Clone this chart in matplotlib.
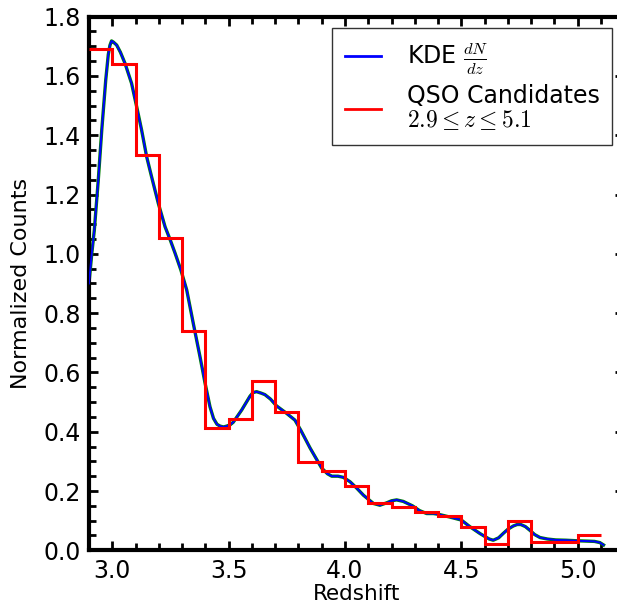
import numpy as np
import matplotlib
matplotlib.use("Agg")
import matplotlib.pyplot as plt

plt.rcParams["mathtext.fontset"] = "cm"
plt.rcParams["font.family"] = ["DejaVu Sans"]

# Histogram of QSO candidates (0.1-wide redshift bins)
bin_edges = np.round(np.arange(2.9, 5.1001, 0.1), 2)
counts = [1.690, 1.639, 1.334, 1.052, 0.740, 0.413, 0.443, 0.572, 0.466, 0.297,
          0.268, 0.217, 0.159, 0.147, 0.130, 0.117, 0.080, 0.021, 0.100, 0.029,
          0.029, 0.051]

# Kernel density estimate dN/dz
kde_z = [2.900, 2.912, 2.923, 2.940, 2.955, 2.972, 2.983, 2.990, 2.997, 3.005,
         3.019, 3.035, 3.055, 3.083, 3.105, 3.126, 3.148, 3.169, 3.198, 3.227,
         3.250, 3.270, 3.295, 3.320, 3.348, 3.377, 3.399, 3.420, 3.435, 3.450,
         3.463, 3.478, 3.492, 3.506, 3.520, 3.556, 3.592, 3.605, 3.620, 3.640,
         3.656, 3.680, 3.706, 3.749, 3.785, 3.810, 3.850, 3.900, 3.925, 3.943,
         3.970, 3.993, 4.022, 4.050, 4.079, 4.122, 4.150, 4.179, 4.200, 4.222,
         4.250, 4.290, 4.320, 4.351, 4.380, 4.404, 4.451, 4.500, 4.536, 4.579,
         4.600, 4.620, 4.637, 4.660, 4.680, 4.700, 4.723, 4.740, 4.755, 4.775,
         4.795, 4.815, 4.838, 4.870, 4.905, 4.950, 5.000, 5.040, 5.072, 5.095,
         5.111]
kde_n = [0.900, 1.000, 1.080, 1.249, 1.418, 1.586, 1.672, 1.703, 1.718, 1.714,
         1.704, 1.680, 1.642, 1.575, 1.496, 1.418, 1.327, 1.260, 1.170, 1.091,
         1.045, 1.002, 0.945, 0.878, 0.766, 0.653, 0.563, 0.484, 0.445, 0.425,
         0.419, 0.416, 0.419, 0.423, 0.432, 0.473, 0.520, 0.532, 0.535, 0.530,
         0.525, 0.510, 0.487, 0.462, 0.439, 0.405, 0.345, 0.277, 0.258, 0.250,
         0.250, 0.246, 0.231, 0.210, 0.186, 0.158, 0.152, 0.160, 0.167, 0.170,
         0.165, 0.150, 0.134, 0.124, 0.124, 0.121, 0.112, 0.102, 0.080, 0.057,
         0.047, 0.038, 0.034, 0.042, 0.057, 0.071, 0.082, 0.087, 0.087, 0.080,
         0.067, 0.053, 0.043, 0.038, 0.035, 0.034, 0.032, 0.031, 0.030, 0.026,
         0.018]

fig = plt.figure(figsize=(6.17, 6.15), dpi=100)
fig.patch.set_facecolor("white")
ax = fig.add_axes([0.1442, 0.1052, 0.8676, 0.8678])

ax.plot(kde_z, kde_n, color="green", lw=2.4, zorder=2)
kde_line, = ax.plot(kde_z, kde_n, color="blue", lw=1.4, zorder=3)
ax.stairs(counts, bin_edges, baseline=None, color="red", lw=2.2, zorder=4)

ax.set_xlim(2.9, 5.2)
ax.set_ylim(0, 1.8)
ax.set_xticks([3.0, 3.5, 4.0, 4.5, 5.0])
ax.set_xticks(np.arange(2.9, 5.2, 0.1), minor=True)
ax.set_yticks(np.arange(0, 1.81, 0.2))
ax.set_yticks(np.arange(0, 1.81, 0.05), minor=True)
ax.xaxis.set_major_formatter(matplotlib.ticker.FormatStrFormatter("%.1f"))
ax.yaxis.set_major_formatter(matplotlib.ticker.FormatStrFormatter("%.1f"))

for s in ax.spines.values():
    s.set_linewidth(3)
ax.tick_params(which="both", direction="in", top=True, right=True, width=2)
ax.tick_params(which="major", length=6.5, labelsize=17, pad=6)
ax.tick_params(which="minor", length=4.7)

ax.set_xlabel("Redshift", fontsize=15.5, labelpad=1)
ax.set_ylabel("Normalized Counts", fontsize=16, labelpad=9)

proxy_red, = ax.plot([], [], color="red", lw=2)
leg = ax.legend([kde_line, proxy_red],
                [r"KDE $\frac{dN}{dz}$", "QSO Candidates\n$2.9 \\leq z \\leq 5.1$"],
                loc="upper right", fontsize=17, handlelength=1.5,
                handletextpad=1.1, borderpad=0.55, labelspacing=0.3,
                fancybox=False, framealpha=1, borderaxespad=0.5)
leg.get_frame().set_edgecolor("0.2")
leg.get_frame().set_linewidth(1.0)
for h in leg.get_lines():
    h.set_linewidth(2)
for t in leg.get_texts():
    t.set_linespacing(1.0)

fig.savefig("out.png", dpi=100, facecolor="white")
